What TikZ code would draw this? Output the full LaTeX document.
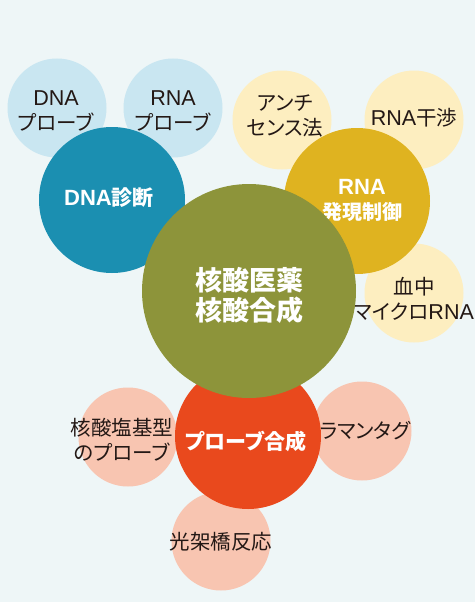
\documentclass[tikz,border=0pt]{standalone}
\usepackage{fontspec}
\setmainfont{Noto Sans CJK JP}[RawFeature=+palt]
\newfontfamily\latinfont{Liberation Sans}[Scale=1.05]
\usepackage{xcolor}
\definecolor{bgcyan}{HTML}{EEF6F7}
\definecolor{inktext}{HTML}{231815}
\definecolor{paleblue}{HTML}{C9E6F1}
\definecolor{paleyellow}{HTML}{FDEEC0}
\definecolor{palesalmon}{HTML}{F8C5B1}
\definecolor{teal}{HTML}{1B8FB1}
\definecolor{gold}{HTML}{DFB320}
\definecolor{olive}{HTML}{8D943A}
\definecolor{vermilion}{HTML}{E9491D}

\begin{document}
\begin{tikzpicture}[
  x=1pt, y=-1pt,
  leaf/.style={circle, inner sep=0pt, minimum size=99pt},
  branch/.style={circle, inner sep=0pt, minimum size=146pt},
  hub/.style={circle, inner sep=0pt, minimum size=214pt},
  leaftext/.style={align=center, text=inktext, font=\fontsize{20.5}{25}\selectfont},
  branchtext/.style={align=center, text=white, font=\bfseries\fontsize{21}{25}\selectfont},
  hubtext/.style={align=center, text=white, font=\bfseries\fontsize{27}{30}\selectfont},
]

\fill [bgcyan] (0,0) rectangle (475,602);
\useasboundingbox (0,0) rectangle (475,602);

\node [leaf, fill=paleblue,
  label={[leaftext, xshift=-1pt, yshift=-3pt]center:{{\latinfont DNA}\\プローブ}}]
  (dnaprobe) at (57,108) {};
\node [leaf, fill=paleblue,
  label={[leaftext, yshift=-3pt]center:{{\latinfont RNA}\\プローブ}}]
  (rnaprobe) at (173,108) {};
\node [leaf, fill=paleyellow,
  label={[leaftext, xshift=3pt, yshift=4pt]center:{アンチ\\センス法}}]
  (antisense) at (282,120) {};
\node [leaf, fill=paleyellow,
  label={[leaftext, yshift=2pt]center:{{\latinfont RNA}干渉}}]
  (rnai) at (414,120) {};
\node [leaf, fill=paleyellow,
  label={[leaftext, yshift=-6pt]center:{血中\\マイクロ{\latinfont RNA}}}]
  (mirna) at (414,293) {};
\node [leaf, fill=palesalmon,
  label={[leaftext, xshift=-6pt, yshift=-3pt]center:{核酸塩基型\\のプローブ}}]
  (baseprobe) at (128,437) {};
\node [leaf, fill=palesalmon,
  label={[leaftext, xshift=3pt]center:ラマンタグ}]
  (raman) at (362,431) {};
\node [leaf, fill=palesalmon,
  label={[leaftext, yshift=-1pt]center:光架橋反応}]
  (photo) at (221,541) {};

\node [branch, fill=teal,
  label={[branchtext, xshift=-3pt, yshift=2pt]center:{{\latinfont DNA}診断}}]
  (diagnosis) at (112,200) {};
\node [branch, fill=gold,
  label={[branchtext, xshift=5pt, yshift=1pt]center:{{\latinfont RNA}\\{\fontsize{20}{25}\selectfont 発現制御}}}]
  (expression) at (357,201) {};
\node [branch, fill=vermilion,
  label={[branchtext, xshift=-2pt, yshift=-5pt]center:プローブ合成}]
  (probesyn) at (248,436) {};

\node [hub, fill=olive,
  label={[hubtext, yshift=-4pt]center:{核酸医薬\\核酸合成}}]
  (drug) at (249,291) {};

\end{tikzpicture}
\end{document}
